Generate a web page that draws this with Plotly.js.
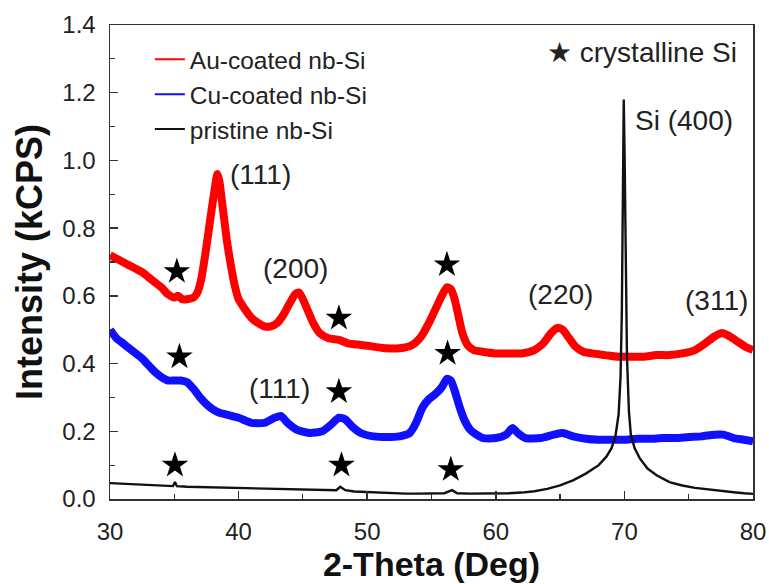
<!DOCTYPE html>
<html>
<head>
<meta charset="utf-8">
<script src="https://cdn.plot.ly/plotly-3.0.1.min.js"></script>
<style>html,body{margin:0;padding:0;background:#fff;}#chart{width:769px;height:584px;}</style>
</head>
<body>
<div id="chart"></div>
<script>
// Au-coated nb-Si (red)
const auX = [30.0,30.5,31.0,31.5,32.0,32.5,33.0,33.5,34.0,34.5,35.0,35.3,35.6,36.0,36.5,36.8,37.1,37.4,37.7,38.0,38.2,38.35,38.5,38.7,38.9,39.1,39.4,39.7,40.0,40.5,41.0,41.5,42.0,42.5,43.0,43.5,44.0,44.4,44.7,45.0,45.4,45.8,46.3,47.0,47.8,48.5,49.5,50.5,51.5,52.5,53.5,54.2,54.8,55.3,55.8,56.2,56.5,56.8,57.1,57.4,57.8,58.3,59.0,60.0,61.0,62.0,63.0,63.7,64.3,64.8,65.2,65.7,66.2,66.8,67.5,68.5,69.5,70.5,71.5,72.5,73.5,74.5,75.5,76.3,77.0,77.6,78.2,78.8,79.4,80.0];
const auY = [0.72,0.71,0.70,0.69,0.68,0.67,0.655,0.64,0.625,0.605,0.595,0.60,0.59,0.59,0.595,0.61,0.65,0.72,0.80,0.88,0.93,0.96,0.94,0.88,0.82,0.76,0.69,0.63,0.59,0.56,0.535,0.52,0.51,0.51,0.52,0.545,0.58,0.605,0.61,0.59,0.555,0.52,0.49,0.475,0.47,0.46,0.455,0.45,0.445,0.445,0.455,0.48,0.52,0.56,0.60,0.625,0.62,0.59,0.54,0.49,0.455,0.44,0.435,0.43,0.43,0.43,0.44,0.46,0.49,0.505,0.50,0.475,0.45,0.435,0.43,0.425,0.42,0.42,0.42,0.425,0.425,0.43,0.44,0.46,0.48,0.49,0.48,0.465,0.45,0.44];

// Cu-coated nb-Si (blue)
const cuX = [30.0,30.5,31.0,31.5,32.0,32.5,33.0,33.5,34.0,34.5,35.0,35.5,36.0,36.5,37.0,37.5,38.0,38.5,39.0,40.0,41.0,42.0,42.8,43.3,43.8,44.5,45.5,46.5,47.2,47.8,48.3,48.8,49.5,50.5,51.5,52.5,53.3,53.8,54.3,54.8,55.3,55.8,56.2,56.5,56.8,57.2,57.6,58.0,58.5,59.0,60.0,60.8,61.3,61.7,62.3,63.5,64.5,65.2,66.0,67.0,68.0,69.0,70.0,71.0,72.0,73.0,74.0,75.0,76.0,77.0,77.7,78.5,79.3,80.0];
const cuY = [0.50,0.475,0.46,0.445,0.43,0.415,0.395,0.375,0.36,0.35,0.35,0.35,0.345,0.325,0.30,0.28,0.265,0.255,0.25,0.24,0.225,0.225,0.24,0.245,0.225,0.205,0.195,0.20,0.22,0.24,0.235,0.215,0.195,0.185,0.183,0.185,0.195,0.225,0.27,0.295,0.31,0.33,0.355,0.35,0.32,0.27,0.23,0.205,0.19,0.18,0.18,0.19,0.21,0.195,0.18,0.18,0.19,0.195,0.185,0.178,0.175,0.175,0.175,0.178,0.178,0.18,0.18,0.183,0.185,0.19,0.19,0.18,0.175,0.17];

// pristine nb-Si (black)
const prX = [30,31,32,33,34,34.9,35.05,35.2,36,37,38,39,40,41,42,43,44,45,46,47,47.6,47.9,48.3,49,50,51,52,53,54,55,56,56.6,57,58,59,60,61,62,63,64,65,66,67,68,68.6,69.0,69.3,69.55,69.7,69.8,69.88,69.95,70.02,70.1,70.2,70.35,70.5,70.8,71.2,71.8,72.5,73.5,74.5,75.5,76.5,77.5,78.5,79.3,80];
const prY = [0.047,0.045,0.043,0.042,0.040,0.038,0.05,0.038,0.036,0.035,0.034,0.033,0.032,0.031,0.030,0.029,0.028,0.027,0.026,0.025,0.026,0.036,0.026,0.022,0.02,0.018,0.017,0.016,0.016,0.016,0.017,0.026,0.017,0.016,0.016,0.016,0.017,0.019,0.023,0.03,0.04,0.055,0.075,0.10,0.125,0.15,0.185,0.25,0.36,0.55,0.85,1.18,1.0,0.7,0.42,0.26,0.19,0.15,0.12,0.09,0.07,0.05,0.04,0.033,0.028,0.024,0.02,0.017,0.015];

// crystalline Si markers (stars)
const starX = [35.2,47.8,56.2,35.4,47.8,56.25,35.05,48.0,56.5];
const starY = [0.672,0.534,0.692,0.42,0.317,0.43,0.10,0.10,0.087];

// peak labels
const peakLabels = ['(111)','(200)','(220)','(311)','(111)','Si (400)','★ crystalline Si'];
const peakLabelX = [41.72,44.45,65.0,77.2,43.2,74.63,71.4];
const peakLabelY = [0.957,0.681,0.603,0.585,0.326,1.119,1.318];

const legendNames = ['Au-coated nb-Si','Cu-coated nb-Si','pristine nb-Si'];
const seriesColors = ['#ff0000','#1010ff','#111111'];
const xTicks = [30,40,50,60,70,80];
const yTicks = [0.0,0.2,0.4,0.6,0.8,1.0,1.2,1.4];

const FONT = 'Liberation Sans, Arial, Helvetica, sans-serif';

const traces = [
  {x: auX, y: auY, mode: 'lines', name: legendNames[0], showlegend: false, legendgroup: 'au', line: {color: seriesColors[0], width: 8, shape: 'spline', smoothing: 0.6}},
  {x: cuX, y: cuY, mode: 'lines', name: legendNames[1], showlegend: false, legendgroup: 'cu', line: {color: seriesColors[1], width: 8, shape: 'spline', smoothing: 0.6}},
  {x: prX, y: prY, mode: 'lines', name: legendNames[2], showlegend: false, legendgroup: 'pr', line: {color: seriesColors[2], width: 2.4}},
  {x: starX, y: starY, mode: 'markers', showlegend: false, marker: {symbol: 'star', size: 20, color: '#000000'}},
  // legend entries (thin sample lines, no data)
  {x: [null], y: [null], mode: 'lines', name: legendNames[0], legendgroup: 'au', line: {color: seriesColors[0], width: 2}},
  {x: [null], y: [null], mode: 'lines', name: legendNames[1], legendgroup: 'cu', line: {color: seriesColors[1], width: 2}},
  {x: [null], y: [null], mode: 'lines', name: legendNames[2], legendgroup: 'pr', line: {color: seriesColors[2], width: 2}}
];

const annotations = peakLabels.map((t, i) => ({
  x: peakLabelX[i], y: peakLabelY[i], xref: 'x', yref: 'y', text: t, showarrow: false,
  font: {family: FONT, size: 28, color: '#222222'}, xanchor: 'center', yanchor: 'middle'
}));

const layout = {
  width: 769, height: 584,
  margin: {l: 110, r: 16, t: 25, b: 85},
  paper_bgcolor: '#ffffff', plot_bgcolor: '#ffffff',
  font: {family: FONT, size: 24, color: '#222222'},
  showlegend: true,
  legend: {x: 0.062, y: 0.975, xanchor: 'left', yanchor: 'top', bgcolor: 'rgba(0,0,0,0)', font: {family: FONT, size: 24.5, color: '#222222'}, tracegroupgap: 0},
  xaxis: {
    range: [30, 80], tickvals: xTicks, ticktext: xTicks.map(String),
    ticks: 'inside', ticklen: 8, tickwidth: 1.5, tickcolor: '#333',
    minor: {dtick: 5, ticks: 'inside', ticklen: 5, tickwidth: 1.2, tickcolor: '#333'},
    showline: true, linecolor: '#333', linewidth: 1.5, mirror: true,
    showgrid: false, zeroline: false, ticklabelstandoff: 11,
    tickfont: {family: FONT, size: 24, color: '#222'},
    title: {text: '<b>2-Theta (Deg)</b>', font: {family: FONT, size: 34, color: '#111'}, standoff: 4}
  },
  yaxis: {
    range: [0, 1.4], tickvals: yTicks, ticktext: yTicks.map(v => v.toFixed(1)),
    ticks: 'inside', ticklen: 8, tickwidth: 1.5, tickcolor: '#333',
    minor: {dtick: 0.1, ticks: 'inside', ticklen: 5, tickwidth: 1.2, tickcolor: '#333'},
    showline: true, linecolor: '#333', linewidth: 1.5, mirror: true,
    showgrid: false, zeroline: false, ticklabelstandoff: 8,
    tickfont: {family: FONT, size: 24, color: '#222'},
    title: {text: '<b>Intensity (kCPS)</b>', font: {family: FONT, size: 36, color: '#111'}, standoff: 8}
  },
  annotations: annotations
};

Plotly.newPlot('chart', traces, layout, {displayModeBar: false, staticPlot: true});
</script>
</body>
</html>
